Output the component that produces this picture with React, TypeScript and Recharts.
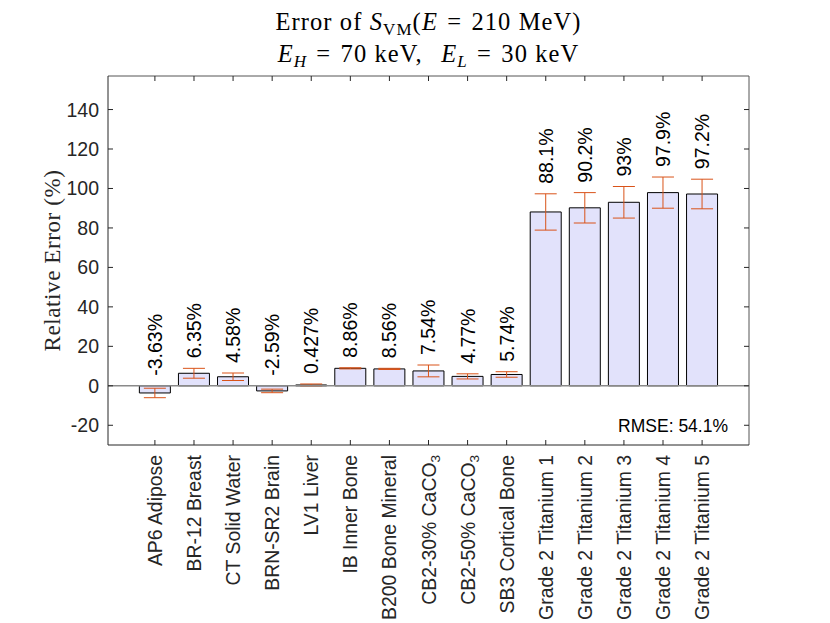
import { ComposedChart, Bar, Line, XAxis, YAxis, ErrorBar, LabelList, ReferenceLine } from "recharts"

const categories = [
  "AP6 Adipose",
  "BR-12 Breast",
  "CT Solid Water",
  "BRN-SR2 Brain",
  "LV1 Liver",
  "IB Inner Bone",
  "B200 Bone Mineral",
  "CB2-30% CaCO_3",
  "CB2-50% CaCO_3",
  "SB3 Cortical Bone",
  "Grade 2 Titanium 1",
  "Grade 2 Titanium 2",
  "Grade 2 Titanium 3",
  "Grade 2 Titanium 4",
  "Grade 2 Titanium 5",
]

const relErrors = [-3.63, 6.35, 4.58, -2.59, 0.427, 8.86, 8.56, 7.54, 4.77, 5.74, 88.1, 90.2, 93, 97.9, 97.2]
const errMargins = [2.4, 2.5, 1.9, 0.9, 0.5, 0.3, 0.3, 3.0, 1.3, 1.4, 9.2, 7.7, 8.0, 7.9, 7.5]
const yTicks = [-20, 0, 20, 40, 60, 80, 100, 120, 140]
const xTicks = categories.map((_, i) => i + 1)

const Y_DOMAIN: [number, number] = [-30, 157]
const X_DOMAIN: [number, number] = [-0.2, 16.2]

// frame layout
const W = 830
const H = 623
const PLOT_LEFT = 108
const PLOT_RIGHT = 749
const PLOT_TOP = 76
const PLOT_BOTTOM = 445
const TICK_LEN = 5

const AXIS_COLOR = "#262626"
const SANS = "'Liberation Sans', Arial, sans-serif"
const SERIF = "'Liberation Serif', 'Times New Roman', serif"

const data = categories.map((name, i) => ({
  x: i + 1,
  name,
  value: relErrors[i],
  err: errMargins[i],
  labelPos: Math.max(0, relErrors[i] + errMargins[i]),
}))

const rmse = Math.sqrt(relErrors.reduce((s, v) => s + v * v, 0) / relErrors.length)

const fmtPct = (v: number) => `${Number(v.toPrecision(3))}%`

function YTick(props: any) {
  const { y, payload } = props
  return (
    <g>
      <line x1={PLOT_LEFT} x2={PLOT_LEFT + TICK_LEN} y1={y} y2={y} stroke={AXIS_COLOR} />
      <line x1={PLOT_RIGHT - TICK_LEN} x2={PLOT_RIGHT} y1={y} y2={y} stroke={AXIS_COLOR} />
      <text x={PLOT_LEFT - 9} y={y} textAnchor="end" dominantBaseline="central" fontSize={19.5} fontFamily={SANS} fill={AXIS_COLOR}>
        {payload.value}
      </text>
    </g>
  )
}

function XTick(props: any) {
  const { x, payload } = props
  const label = categories[payload.value - 1] ?? ""
  const [main, sub] = label.split("_")
  const ty = PLOT_BOTTOM + 10
  return (
    <g>
      <line x1={x} x2={x} y1={PLOT_BOTTOM - TICK_LEN} y2={PLOT_BOTTOM} stroke={AXIS_COLOR} />
      <line x1={x} x2={x} y1={PLOT_TOP} y2={PLOT_TOP + TICK_LEN} stroke={AXIS_COLOR} />
      <text
        x={x}
        y={ty}
        transform={`rotate(-90, ${x}, ${ty})`}
        textAnchor="end"
        dominantBaseline="central"
        fontSize={19.4}
        fontFamily={SANS}
        fill={AXIS_COLOR}
      >
        {main}
        {sub ? (
          <tspan fontSize={13.5} dy={6}>
            {sub}
          </tspan>
        ) : null}
      </text>
    </g>
  )
}

function ValueLabel(props: any) {
  const { x, y, value } = props
  const ty = y - 10
  return (
    <text
      x={x}
      y={ty}
      transform={`rotate(-90, ${x}, ${ty})`}
      textAnchor="start"
      dominantBaseline="central"
      fontSize={19.5}
      fontFamily={SANS}
      fill="#000"
    >
      {fmtPct(value)}
    </text>
  )
}

export default function App() {
  const cx = (PLOT_LEFT + PLOT_RIGHT) / 2
  const cy = (PLOT_TOP + PLOT_BOTTOM) / 2
  return (
    <div style={{ position: "absolute", left: 0, top: 0, width: W, height: H, background: "#fff" }}>
      <ComposedChart width={W} height={H} data={data} margin={{ top: PLOT_TOP, right: W - PLOT_RIGHT, bottom: 0, left: 0 }}>
        <XAxis
          type="number"
          dataKey="x"
          domain={X_DOMAIN}
          ticks={xTicks}
          allowDataOverflow
          height={H - PLOT_BOTTOM}
          interval={0}
          tickSize={0}
          tickMargin={0}
          tickLine={false}
          stroke={AXIS_COLOR}
          tick={<XTick />}
        />
        <YAxis
          type="number"
          domain={Y_DOMAIN}
          ticks={yTicks}
          allowDataOverflow
          width={PLOT_LEFT}
          interval={0}
          tickSize={0}
          tickMargin={0}
          tickLine={false}
          stroke={AXIS_COLOR}
          tick={<YTick />}
        />
        <ReferenceLine y={Y_DOMAIN[1]} stroke="#555" />
        <ReferenceLine x={X_DOMAIN[1]} stroke="#555" />
        <Bar dataKey="value" barSize={31} fill="#E2E2FB" stroke="#000" strokeWidth={1} isAnimationActive={false}>
          <ErrorBar dataKey="err" width={11} stroke="#D95319" strokeWidth={1} />
        </Bar>
        <ReferenceLine y={0} stroke="#8a8a8a" strokeWidth={1.5} />
        <Line dataKey="labelPos" stroke="none" dot={false} activeDot={false} isAnimationActive={false}>
          <LabelList dataKey="value" content={<ValueLabel />} />
        </Line>
      </ComposedChart>
      <svg width={W} height={H} style={{ position: "absolute", left: 0, top: 0, pointerEvents: "none" }}>
        <text x={cx} y={29.5} textAnchor="middle" fontSize={24.5} letterSpacing={1.1} fontFamily={SERIF} fill="#000">
          {"Error of "}
          <tspan fontStyle="italic">S</tspan>
          <tspan fontSize={17} dy={5}>VM</tspan>
          <tspan dy={-5}>(</tspan>
          <tspan fontStyle="italic">E</tspan>
          {"\u2004=\u2004210 MeV)"}
        </text>
        <text x={cx} y={61.7} textAnchor="middle" fontSize={24.5} letterSpacing={1.1} fontFamily={SERIF} fill="#000">
          <tspan fontStyle="italic">E</tspan>
          <tspan fontSize={17} dy={5} fontStyle="italic">H</tspan>
          <tspan dy={-5}>{"\u2004=\u200470 keV,\u2002\u2006"}</tspan>
          <tspan fontStyle="italic">E</tspan>
          <tspan fontSize={17} dy={5} fontStyle="italic">L</tspan>
          <tspan dy={-5}>{"\u2004=\u200430 keV"}</tspan>
        </text>
        <text
          x={52}
          y={cy}
          transform={`rotate(-90, 52, ${cy})`}
          textAnchor="middle"
          dominantBaseline="central"
          fontSize={23}
          letterSpacing={0.6}
          fontFamily={SERIF}
          fill={AXIS_COLOR}
        >
          Relative Error (%)
        </text>
        <text x={728} y={432} textAnchor="end" fontSize={17.5} fontFamily={SANS} fill="#000">
          {`RMSE: ${rmse.toFixed(1)}%`}
        </text>
      </svg>
    </div>
  )
}
